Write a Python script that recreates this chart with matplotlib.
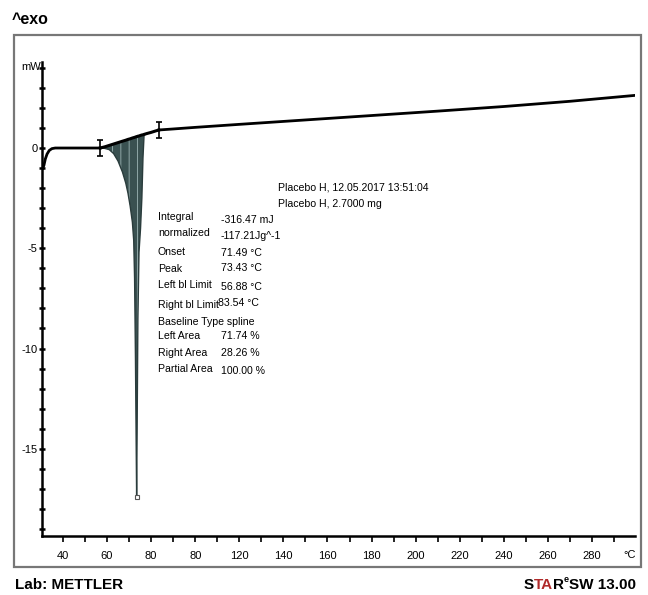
import numpy as np
import matplotlib.pyplot as plt
from matplotlib.patches import Rectangle

plt.rcParams['font.family'] = ['Liberation Sans', 'DejaVu Sans']
plt.rcParams['hatch.linewidth'] = 0.7
plt.rcParams['axes.unicode_minus'] = False

W, H = 648, 595

# DSC curve (temperature in degC, heat flow in mW)
temp_before = [30.9, 31.4, 32.0, 32.8, 33.8, 35.0, 36.5, 45.0, 56.88]
flow_before = [-1.0, -0.85, -0.55, -0.3, -0.12, -0.03, 0.0, 0.0, 0.0]

temp_peak = [56.88, 59.0, 61.0, 63.0, 65.0, 67.0, 68.5, 69.5, 70.5, 71.5, 72.1,
             72.5, 72.9, 73.2, 73.43, 73.65, 74.0, 74.5, 75.2, 75.8, 76.3,
             76.8, 78.0, 80.0, 82.0, 83.54]
flow_peak = [0.0, -0.02, -0.08, -0.28, -0.65, -1.2, -1.75, -2.25, -2.9, -3.7, -4.6,
             -6.5, -10.5, -14.5, -17.4, -14.0, -8.5, -5.2, -4.0, -2.5, -0.5,
             0.64, 0.71, 0.78, 0.85, 0.9]
base_peak = [0.0, 0.06, 0.13, 0.20, 0.27, 0.34, 0.39, 0.43, 0.46, 0.50, 0.52,
             0.53, 0.55, 0.56, 0.57, 0.57, 0.59, 0.60, 0.63, 0.65, 0.66,
             0.68, 0.72, 0.78, 0.85, 0.9]

temp_after = [83.54, 90, 100, 120, 150, 180, 210, 240, 270, 299]
flow_after = [0.9, 0.95, 1.03, 1.18, 1.40, 1.62, 1.84, 2.07, 2.33, 2.62]

limits_t = [56.88, 83.54]
limits_f = [0.0, 0.9]

xticks = [40, 60, 80, 100, 120, 140, 160, 180, 200, 220, 240, 260, 280]
xtick_labels = ['40', '60', '80', '80', '120', '140', '160', '180', '200',
                '220', '240', '260', '280']
yticks = [0, -5, -10, -15]

labels = ['Integral', 'normalized', 'Onset', 'Peak', 'Left bl Limit',
          'Right bl Limit', 'Baseline Type spline', 'Left Area', 'Right Area',
          'Partial Area']
label_y = [217, 233, 252, 269, 285, 305, 322, 336, 353, 369]
values = ['-316.47 mJ', '-117.21Jg^-1', '71.49 °C', '73.43 °C', '56.88 °C',
          '83.54 °C', '', '71.74 %', '28.26 %', '100.00 %']
value_y = [220, 236, 253, 268, 287, 303, 0, 336, 353, 371]
value_x = [221, 221, 221, 221, 221, 218, 0, 221, 221, 221]


def px(x, y):
    return x / W, 1 - y / H


fig = plt.figure(figsize=(W / 100, H / 100), dpi=100)
ax = fig.add_axes([42 / W, 1 - 536 / H, (635 - 42) / W, (536 - 62) / H])

ax.plot(temp_before, flow_before, color='black', lw=2)
ax.plot(temp_after, flow_after, color='black', lw=2)
ax.fill_between(temp_peak, flow_peak, base_peak, facecolor='#3a5151',
                edgecolor='#8fa6a6', hatch='||', linewidth=0)
ax.plot(temp_peak, flow_peak, color='#2a3c3c', lw=1.0)
ax.plot(temp_peak, base_peak, color='black', lw=2.2)
ax.errorbar(limits_t, limits_f, yerr=0.38, fmt='none', ecolor='black',
            elinewidth=1.2, capsize=2, capthick=1.2)
# small mark at the peak tip
ax.plot(temp_peak[14], flow_peak[14], marker='s', ms=2.5, mfc='white',
        mec='#555555', mew=0.8)

ax.set_xlim(30.5, 299.5)
ax.set_ylim(-19.35, 4.29)
for s in ['top', 'right']:
    ax.spines[s].set_visible(False)
for s in ['left', 'bottom']:
    ax.spines[s].set_linewidth(1.8)

ax.set_xticks(xticks)
ax.set_xticklabels(xtick_labels)
ax.set_xticks(np.arange(40, 300, 10), minor=True)
ax.tick_params(axis='x', which='both', direction='out', length=4, width=1.2,
               labelsize=8, pad=7)
ax.set_yticks(yticks)
ax.set_yticks(np.arange(-19, 5, 1), minor=True)
ax.tick_params(axis='y', which='both', direction='inout', length=4, width=1.8,
               labelsize=8, pad=1)

fig.text(*px(630, 555), '°C', fontsize=8, ha='center', va='center')
fig.text(*px(21, 67), 'mW', fontsize=8, ha='left', va='center')

fs = 7.6
fig.text(*px(278, 187), 'Placebo H, 12.05.2017 13:51:04', fontsize=fs,
         va='center')
fig.text(*px(278, 204), 'Placebo H, 2.7000 mg', fontsize=fs, va='center')
for lab, ly, val, vx, vy in zip(labels, label_y, values, value_x, value_y):
    fig.text(*px(158, ly), lab, fontsize=fs, va='center')
    if val:
        fig.text(*px(vx, vy), val, fontsize=fs, va='center')

fig.patches.append(Rectangle(px(14, 567), (641 - 14) / W, (567 - 35) / H,
                             transform=fig.transFigure, fill=False,
                             ec='#777777', lw=1.6))

fig.text(*px(12, 20), '^exo', fontsize=11.5, fontweight='bold', va='center')
fig.text(*px(15, 585), 'Lab: METTLER', fontsize=11, fontweight='bold',
         va='center')

# STAR^e SW 13.00, right aligned
pieces = [('S', 'black', 11, 0), ('TA', '#b02a2a', 11, 0), ('R', 'black', 11, 0),
          ('e', 'black', 6.5, 5), ('SW 13.00', 'black', 11, 0)]
renderer = fig.canvas.get_renderer()
widths = []
for s, c, size, dy in pieces:
    t = fig.text(0, 0, s, fontsize=size, fontweight='bold')
    widths.append(t.get_window_extent(renderer).width)
    t.remove()
x0 = 636 - sum(widths)
for (s, c, size, dy), w in zip(pieces, widths):
    fig.text(*px(x0, 585 - dy), s, fontsize=size, fontweight='bold', color=c,
             va='center')
    x0 += w

fig.savefig('out.png', dpi=100)
